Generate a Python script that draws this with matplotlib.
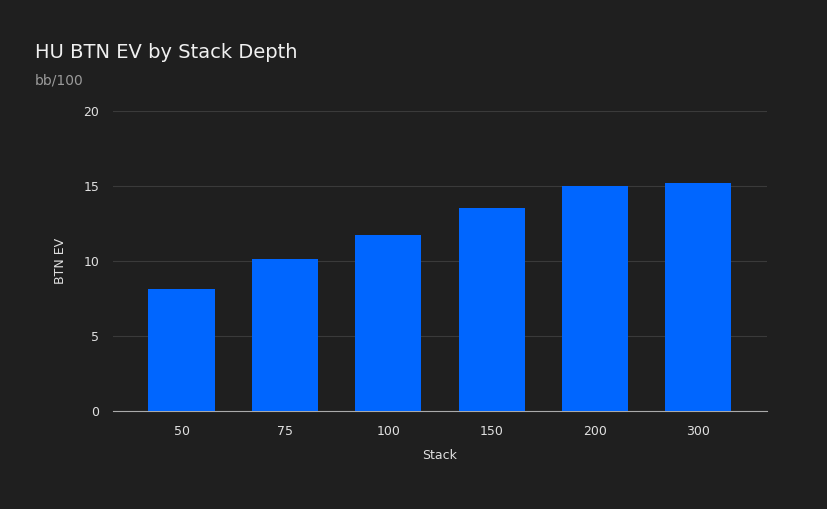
import matplotlib
matplotlib.use('Agg')
from matplotlib import pyplot as plt

stacks = ['50', '75', '100', '150', '200', '300']
btn_ev = [8.15, 10.1, 11.7, 13.5, 15.0, 15.2]
y_ticks = [0, 5, 10, 15, 20]

bg = '#1f1f1f'
fig = plt.figure(figsize=(8.27, 5.09), dpi=100, facecolor=bg)
ax = fig.add_axes([0.137, 0.1925, 0.79, 0.5895], facecolor=bg)

x = range(len(stacks))
ax.bar(x, btn_ev, width=0.64, color='#0066ff', zorder=3)
ax.set_xlim(-0.66, len(stacks) - 1 + 0.66)
ax.set_ylim(0, 20)
ax.set_xticks(list(x))
ax.set_xticklabels(stacks)
ax.set_yticks(y_ticks)
ax.grid(axis='y', color='#3a3a3a', linewidth=0.8, zorder=0)
for s in ['top', 'right', 'left']:
    ax.spines[s].set_visible(False)
ax.spines['bottom'].set_color('#aaaaaa')
ax.tick_params(colors='#e0e0e0', labelsize=9, length=0, pad=10)
ax.set_xlabel('Stack', color='#e0e0e0', fontsize=9, labelpad=8)
ax.set_ylabel('BTN EV', color='#e0e0e0', fontsize=9, labelpad=12)

fig.text(0.042, 0.897, 'HU BTN EV by Stack Depth', color='#f0f0f0', fontsize=14, va='center')
fig.text(0.042, 0.842, 'bb/100', color='#9a9a9a', fontsize=10, va='center')

fig.savefig('out.png', facecolor=bg)
